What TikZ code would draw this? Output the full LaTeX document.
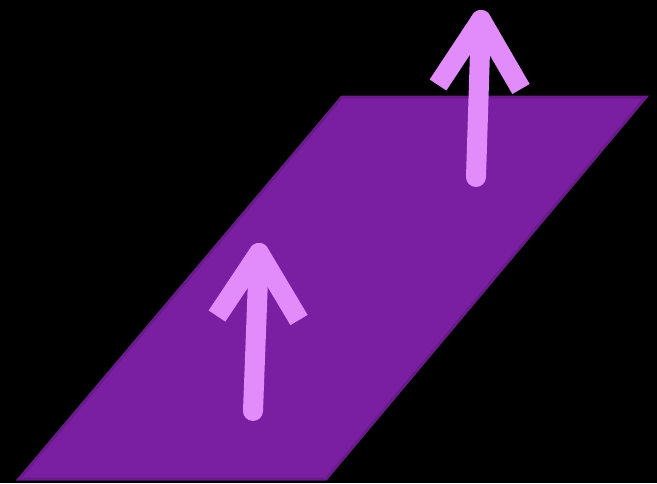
\documentclass[tikz,border=0pt]{standalone}
\definecolor{plane}{HTML}{7B1FA2}
\definecolor{planeedge}{HTML}{6A1B8A}
\definecolor{arrowc}{HTML}{E28CFB}
\begin{document}
\begin{tikzpicture}[x=1pt,y=-1pt,
  planestyle/.style={fill=plane,draw=planeedge,line width=3pt,line join=miter},
  shaftstyle/.style={draw=arrowc,line width=20pt,line cap=round},
  headstyle/.style={draw=arrowc,line width=20pt,line cap=butt,line join=round}]
\fill[black] (0,0) rectangle (657,483);
\useasboundingbox (0,0) rectangle (657,483);
\coordinate (p1) at (342,97);
\coordinate (p2) at (646,97);
\coordinate (p3) at (326,479);
\coordinate (p4) at (19,479);
\draw[planestyle] (p1) -- (p2) -- (p3) -- (p4) -- cycle;
% arrow 1
\coordinate (a1tip) at (259,253);
\coordinate (a1base) at (253,411);
\coordinate (a1l) at (217,316);
\coordinate (a1r) at (299,320);
\draw[shaftstyle] (a1base) -- (a1tip);
\draw[headstyle] (a1l) -- (a1tip) -- (a1r);
% arrow 2
\coordinate (a2tip) at (481,20);
\coordinate (a2base) at (476,177);
\coordinate (a2l) at (438,85);
\coordinate (a2r) at (521,89);
\draw[shaftstyle] (a2base) -- (a2tip);
\draw[headstyle] (a2l) -- (a2tip) -- (a2r);
\end{tikzpicture}
\end{document}
